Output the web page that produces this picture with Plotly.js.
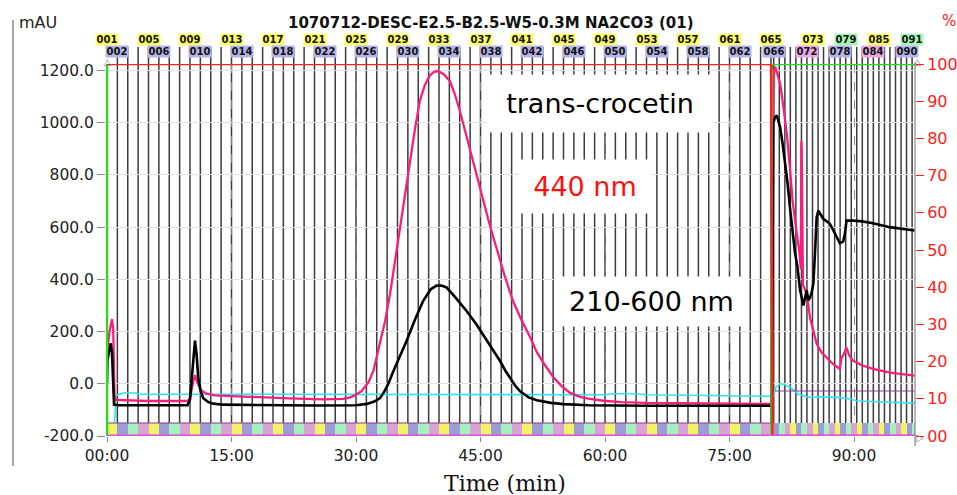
<!DOCTYPE html>
<html><head><meta charset="utf-8">
<script src="https://cdn.plot.ly/plotly-3.0.1.min.js"></script>
<style>html,body{margin:0;padding:0;background:#fff}#c{width:957px;height:495px}</style>
</head><body><div id="c"></div>
<script>
// ---- data (minutes / mAU / %) ----
const blackT=[0,0.05,0.3,0.45,0.6,0.75,0.85,1.5,5,9.7,10.0,10.3,10.6,10.8,11.0,11.3,11.6,12.2,12.8,14,20,25,30,31.3,32.2,32.9,33.4,33.9,34.4,34.9,35.5,36.1,37.1,38.1,39.0,39.7,40.3,40.9,42.0,43.3,44.5,45.7,46.5,47.3,48.0,48.6,49.2,49.8,50.8,51.8,53.5,55,58,65,70,75,79.9,80.1,80.27,80.5,80.7,81.1,81.4,81.7,82.0,82.3,82.6,82.9,83.2,83.5,83.9,84.1,84.3,84.5,84.7,84.9,85.1,85.3,85.5,85.7,86.0,86.3,87.1,87.9,88.3,88.7,88.9,89.1,89.9,91,92.3,94.3,97.3];
const blackV=[0,90,130,155,120,-50,-80,-82,-83,-82,-60,60,165,110,20,-30,-55,-70,-76,-80,-82,-83,-82,-77,-68,-55,-30,0,40,76,120,165,245,318,362,376,376,369,330,280,228,170,130,90,50,20,-8,-30,-52,-63,-73,-78,-82,-84,-84,-84,-84,-84,1000,1021,1028,983,920,850,767,670,575,500,445,360,300,330,357,320,330,350,383,500,638,663,645,632,613,561,538,545,575,625,625,622,615,600,587];
const pinkT=[0,0.05,0.3,0.5,0.6,0.75,0.9,1.05,2,5,9.7,10.0,10.3,10.6,10.9,11.3,12,13,15,18,22,26,28.5,29.3,30.0,30.7,31.5,32.1,32.9,33.5,34.1,34.7,35.3,35.9,36.5,37.1,37.7,38.3,38.9,39.4,39.9,40.6,41.3,41.9,42.5,43.3,44.1,45.3,46.1,46.9,47.9,48.9,50.0,51.0,51.8,52.8,53.8,54.8,55.8,57,58,59.8,62,65,70,75,79.9,80.1,80.2,80.35,80.5,80.7,81.1,81.5,81.9,82.3,82.6,83.0,83.4,83.6,83.65,83.7,83.85,84.3,84.7,85.1,85.5,86.1,86.7,87.5,88.3,88.5,88.8,89.1,89.4,89.9,91,92.3,94.3,97.3];
const pinkV=[90,130,200,240,248,210,-40,-62,-63,-66,-66,-55,-5,33,5,-25,-38,-44,-47,-52,-56,-60,-58,-52,-42,-27,5,50,152,240,344,470,599,730,855,975,1085,1145,1181,1195,1198,1185,1160,1110,1047,950,855,702,610,523,415,318,240,177,120,70,24,-10,-35,-50,-57,-65,-70,-73,-75,-76,-77,-77,900,1190,1215,1195,1150,1060,958,820,702,600,510,440,930,900,380,345,254,200,153,120,101,75,57,100,115,139,110,88,70,57,43,31];
const cyanT=[0,0.7,0.9,1.1,1.5,2.0,3.5,3.8,10,30,50,60,61,62.5,64,65,70,75,79.9,80.3,80.6,81.1,81.6,82.3,83.3,84.3,86,88.3,89.5,90.3,92,94,96.9,97.3];
const cyanV=[-195,-195,-150,-45,-40,-35,-35,-40,-40,-40,-41,-42,-38,-37,-39,-42,-44,-47,-48,-48,-12,0,-3,-13,-40,-50,-51,-52,-58,-65,-68,-70,-74,-74];
const redT=[0,80.0,80.2,97.35], redV=[100,100,0,0];
const greenT=[0,0,80.05,80.1,97.35], greenV=[100,0,0,100,100];
const baseT=[-0.2,97.35], baseV=[0,0];
const bandTopT=[0,80], bandTopV=[3.5,3.5];
const purpleT=[80.5,97.3], purpleV=[12.1,12.1];
const fracStart=[0,1.25,2.5,3.75,5,6.25,7.5,8.75,10,11.25,12.5,13.75,15,16.25,17.5,18.75,20,21.25,22.5,23.75,25,26.25,27.5,28.75,30,31.25,32.5,33.75,35,36.25,37.5,38.75,40,41.25,42.5,43.75,45,46.25,47.5,48.75,50,51.25,52.5,53.75,55,56.25,57.5,58.75,60,61.25,62.5,63.75,65,66.25,67.5,68.75,70,71.25,72.5,73.75,75,76.25,77.5,78.75,80,80.33,81,81.67,82.33,83,83.67,84.33,85,85.67,86.33,87,87.67,88.33,89,89.67,90.33,91,91.67,92.33,93,93.67,94.33,95,95.67,96.33,97];
const fracEndLast=97.3;
const row1Nums=[1,5,9,13,17,21,25,29,33,37,41,45,49,53,57,61,65,73,79,85,91];
const row2Nums=[2,6,10,14,18,22,26,30,34,38,42,46,50,54,58,62,66,72,78,84,90];
const xTickVals=[0,15,30,45,60,75,90];
const xTickText=['00:00','15:00','30:00','45:00','60:00','75:00','90:00'];
const yTickVals=[-200,0,200,400,600,800,1000,1200];
const yTickText=['-200.0','0.0','200.0','400.0','600.0','800.0','1000.0','1200.0'];
const y2TickVals=[0,10,20,30,40,50,60,70,80,90,100];
const y2TickText=['00','10','20','30','40','50','60','70','80','90','100'];

// ---- styling helpers ----
const labelBg={1:'#ffff66',2:'#b4b4e8',3:'#a6f5b6',0:'#e8a8e6'};
const bandCol={1:'#f2f266',2:'#9c9cd6',3:'#a4f0be',0:'#d9a3d6'};
const pad3=n=>String(n).padStart(3,'0');
const L=106, T=64, PW=809, PH=372;
const py=p=>(T+PH-p)/PH; // pixel y -> paper

// band bars
const bx=[],bw=[],bc=[];
for(let i=0;i<fracStart.length;i++){
  const s=fracStart[i], e=(i+1<fracStart.length)?fracStart[i+1]:fracEndLast;
  bx.push((s+e)/2); bw.push(e-s); bc.push(bandCol[(i+1)%4]);
}

const traces=[
 {x:cyanT,y:cyanV,type:'scatter',mode:'lines',line:{color:'#2fe3f2',width:1.6},hoverinfo:'skip'},
 {x:pinkT,y:pinkV,type:'scatter',mode:'lines',line:{color:'#fa1e7c',width:2.3},hoverinfo:'skip'},
 {x:blackT,y:blackV,type:'scatter',mode:'lines',line:{color:'#000',width:2.6},hoverinfo:'skip'},
 {x:bx,y:bw.map(()=>3.1),base:0.4,width:bw,type:'bar',yaxis:'y2',marker:{color:bc,line:{width:0}},hoverinfo:'skip'},
 {x:bandTopT,y:bandTopV,yaxis:'y2',type:'scatter',mode:'lines',line:{color:'#8a3a8a',width:1.2},hoverinfo:'skip'},
 {x:purpleT,y:purpleV,yaxis:'y2',type:'scatter',mode:'lines',line:{color:'#9040a0',width:1.2},hoverinfo:'skip'},
 {x:greenT,y:greenV,yaxis:'y2',type:'scatter',mode:'lines',line:{color:'#22dd22',width:2.4},hoverinfo:'skip'},
 {x:redT,y:redV,yaxis:'y2',type:'scatter',mode:'lines',line:{color:'#ff2020',width:2.4},hoverinfo:'skip'},
 {x:baseT,y:baseV,yaxis:'y2',type:'scatter',mode:'lines',line:{color:'#e650e6',width:3},hoverinfo:'skip'}
];

const shapes=[];
for(let i=1;i<fracStart.length;i++){
  shapes.push({type:'line',xref:'x',yref:'paper',x0:fracStart[i],x1:fracStart[i],y0:py(423),y1:py(47),line:{color:'#3c3c3c',width:1.5},layer:'between'});
}
// right axis line & left frame line
shapes.push({type:'line',xref:'paper',yref:'paper',x0:1,x1:1,y0:py(446),y1:py(62),line:{color:'#888',width:1.2}});
shapes.push({type:'line',xref:'paper',yref:'paper',x0:(13-L)/PW,x1:(13-L)/PW,y0:py(466),y1:py(20),line:{color:'#888',width:1.5}});

const ann=[];
const addLab=(n,yp)=>ann.push({xref:'x',yref:'paper',x:fracStart[n-1],y:py(yp),text:'<b>'+pad3(n)+'</b>',showarrow:false,
  font:{family:'DejaVu Sans',size:10,color:'#111'},bgcolor:labelBg[n%4],borderpad:0,width:22,height:11,xanchor:'center',yanchor:'middle'});
row1Nums.forEach(n=>addLab(n,39));
row2Nums.forEach(n=>addLab(n,51));
ann.push({xref:'paper',yref:'paper',x:(491-L)/PW,y:py(23),text:'<b>1070712-DESC-E2.5-B2.5-W5-0.3M NA2CO3 (01)</b>',showarrow:false,font:{family:'DejaVu Sans',size:15,color:'#111'},xanchor:'center',yanchor:'middle'});
ann.push({xref:'paper',yref:'paper',x:(17-L)/PW,y:py(22),text:'mAU',showarrow:false,font:{family:'DejaVu Sans',size:16,color:'#222'},xanchor:'left',yanchor:'middle'});
ann.push({xref:'paper',yref:'paper',x:(940-L)/PW,y:py(21),text:'%',showarrow:false,font:{family:'DejaVu Sans',size:15,color:'#ff2020'},xanchor:'left',yanchor:'middle'});
ann.push({xref:'paper',yref:'paper',x:(107.5-L)/PW,y:py(62.5),text:'△',showarrow:false,font:{family:'DejaVu Sans',size:9,color:'#777'},xanchor:'center',yanchor:'middle'});
ann.push({xref:'paper',yref:'paper',x:(917-L)/PW,y:py(62.5),text:'△',showarrow:false,font:{family:'DejaVu Sans',size:9,color:'#777'},xanchor:'center',yanchor:'middle'});
ann.push({xref:'paper',yref:'paper',x:(920-L)/PW,y:py(437),text:'▷',showarrow:false,font:{family:'DejaVu Sans',size:10,color:'#777'},xanchor:'center',yanchor:'middle'});
ann.push({xref:'paper',yref:'paper',x:(505-L)/PW,y:py(483),text:'Time (min)',showarrow:false,font:{family:'DejaVu Serif',size:22,color:'#111'},xanchor:'center',yanchor:'middle'});
ann.push({xref:'paper',yref:'paper',x:(600-L)/PW,y:py(103.5),text:'trans-crocetin',showarrow:false,font:{family:'DejaVu Sans',size:27,color:'#000'},bgcolor:'#fff',width:224,height:57,borderpad:0,xanchor:'center',yanchor:'middle'});
ann.push({xref:'paper',yref:'paper',x:(585-L)/PW,y:py(186.5),text:'440 nm',showarrow:false,font:{family:'DejaVu Sans',size:27,color:'#ff1010'},bgcolor:'#fff',width:130,height:53,borderpad:0,xanchor:'center',yanchor:'middle'});
ann.push({xref:'paper',yref:'paper',x:(651.5-L)/PW,y:py(301),text:'210-600 nm',showarrow:false,font:{family:'DejaVu Sans',size:27,color:'#000'},bgcolor:'#fff',width:193,height:49,borderpad:0,xanchor:'center',yanchor:'middle'});

const layout={
 width:957,height:495,margin:{l:L,r:957-L-PW,t:T,b:495-T-PH,pad:0},
 paper_bgcolor:'#fff',plot_bgcolor:'#fff',showlegend:false,barmode:'overlay',bargap:0,
 xaxis:{range:[-0.12,97.35],tickvals:xTickVals,ticktext:xTickText,ticks:'outside',ticklen:5,tickcolor:'#888',
   showgrid:true,gridcolor:'#888',griddash:'dash',gridwidth:1,zeroline:false,showline:false,
   tickfont:{family:'DejaVu Sans',size:15.5,color:'#222'}},
 yaxis:{range:[-200,1225],tickvals:yTickVals,ticktext:yTickText,ticks:'outside',ticklen:8,tickcolor:'#888',
   showgrid:true,gridcolor:'#e2e2e2',zeroline:false,showline:false,
   tickfont:{family:'DejaVu Sans',size:15.5,color:'#222'}},
 yaxis2:{range:[0,100],overlaying:'y',side:'right',tickvals:y2TickVals,ticktext:y2TickText,ticks:'outside',ticklen:8,tickcolor:'#ff2020',
   showgrid:false,zeroline:false,showline:false,tickfont:{family:'DejaVu Sans',size:16,color:'#ff2020'}},
 shapes:shapes,annotations:ann
};
Plotly.newPlot('c',traces,layout,{staticPlot:true,displayModeBar:false});
</script></body></html>
